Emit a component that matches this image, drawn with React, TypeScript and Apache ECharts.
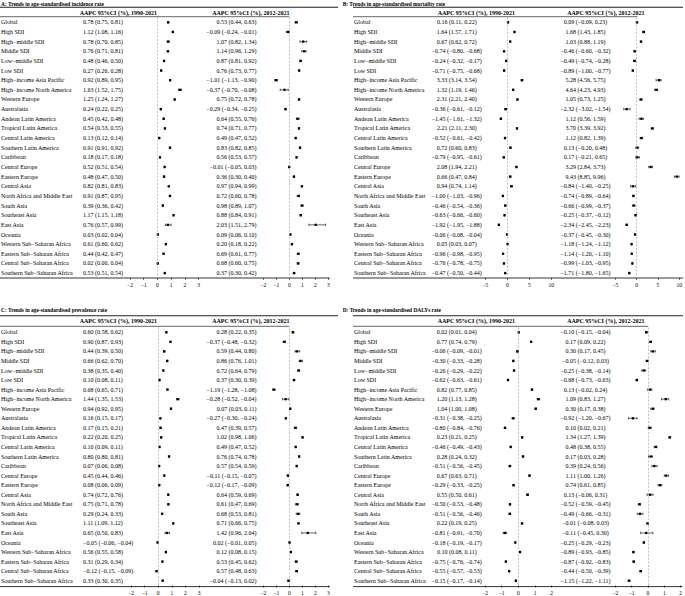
import React, { useEffect, useRef } from "react";
import * as echarts from "echarts";

const regions = [
  "Global", "High SDI", "High\u2212middle SDI", "Middle SDI", "Low\u2212middle SDI", "Low SDI",
  "High\u2212income Asia Pacific", "High\u2212income North America", "Western Europe", "Australasia",
  "Andean Latin America", "Tropical Latin America", "Central Latin America", "Southern Latin America",
  "Caribbean", "Central Europe", "Eastern Europe", "Central Asia", "North Africa and Middle East",
  "South Asia", "Southeast Asia", "East Asia", "Oceania", "Western Sub\u2212Saharan Africa",
  "Eastern Sub\u2212Saharan Africa", "Central Sub\u2212Saharan Africa", "Southern Sub\u2212Saharan Africa",
];

const incidence1990 = [
  [0.78, 0.75, 0.81], [1.12, 1.08, 1.16], [0.78, 0.70, 0.85], [0.76, 0.71, 0.81], [0.48, 0.46, 0.50],
  [0.27, 0.26, 0.28], [0.92, 0.89, 0.95], [1.63, 1.52, 1.75], [1.25, 1.24, 1.27], [0.24, 0.22, 0.25],
  [0.45, 0.42, 0.48], [0.54, 0.53, 0.55], [0.13, 0.12, 0.14], [0.91, 0.91, 0.92], [0.18, 0.17, 0.18],
  [0.52, 0.51, 0.54], [0.48, 0.47, 0.50], [0.82, 0.81, 0.83], [0.91, 0.87, 0.95], [0.39, 0.36, 0.42],
  [1.17, 1.15, 1.18], [0.76, 0.57, 0.99], [0.03, 0.02, 0.04], [0.61, 0.60, 0.62], [0.44, 0.42, 0.47],
  [0.02, 0.00, 0.04], [0.53, 0.51, 0.54],
];
const incidence2012 = [
  [0.53, 0.44, 0.63], [-0.09, -0.24, -0.01], [1.07, 0.82, 1.34], [1.14, 0.96, 1.29], [0.87, 0.81, 0.92],
  [0.76, 0.73, 0.77], [-1.01, -1.13, -0.90], [-0.37, -0.70, -0.08], [0.75, 0.72, 0.78], [-0.29, -0.34, -0.25],
  [0.64, 0.55, 0.76], [0.74, 0.71, 0.77], [0.49, 0.47, 0.52], [0.83, 0.82, 0.85], [0.56, 0.53, 0.57],
  [-0.01, -0.05, 0.03], [0.36, 0.30, 0.40], [0.97, 0.94, 0.99], [0.72, 0.60, 0.78], [0.98, 0.89, 1.07],
  [0.88, 0.84, 0.91], [2.03, 1.51, 2.79], [0.09, 0.06, 0.10], [0.20, 0.18, 0.22], [0.69, 0.61, 0.77],
  [0.68, 0.60, 0.75], [0.37, 0.30, 0.42],
];
const mortality1990 = [
  [0.16, 0.11, 0.22], [1.64, 1.57, 1.71], [0.67, 0.62, 0.72], [-0.74, -0.80, -0.68], [-0.24, -0.32, -0.17],
  [-0.71, -0.75, -0.68], [3.33, 3.14, 3.54], [1.32, 1.19, 1.46], [2.31, 2.21, 2.40], [-0.36, -0.61, -0.12],
  [-1.45, -1.61, -1.32], [2.21, 2.11, 2.30], [-0.52, -0.61, -0.42], [0.72, 0.60, 0.83], [-0.79, -0.95, -0.61],
  [2.08, 1.94, 2.21], [0.66, 0.47, 0.84], [0.94, 0.74, 1.14], [-1.00, -1.03, -0.96], [-0.46, -0.54, -0.36],
  [-0.63, -0.66, -0.60], [-1.92, -1.95, -1.88], [-0.06, -0.08, -0.04], [0.05, 0.03, 0.07], [-0.96, -0.98, -0.95],
  [-0.76, -0.78, -0.75], [-0.47, -0.50, -0.44],
];
const mortality2012 = [
  [0.09, -0.09, 0.23], [1.68, 1.43, 1.85], [1.03, 0.88, 1.19], [-0.46, -0.60, -0.32], [-0.49, -0.74, -0.28],
  [-0.89, -1.00, -0.77], [5.28, 4.56, 5.75], [4.64, 4.23, 4.93], [1.05, 0.73, 1.25], [-2.32, -3.02, -1.54],
  [1.12, 0.56, 1.59], [3.70, 3.39, 3.92], [1.12, 0.82, 1.39], [0.13, -0.20, 0.48], [0.17, -0.21, 0.65],
  [3.29, 2.84, 3.73], [9.43, 8.85, 9.96], [-0.84, -1.40, -0.25], [-0.74, -0.89, -0.64], [-0.66, -0.99, -0.37],
  [-0.25, -0.37, -0.12], [-2.34, -2.45, -2.23], [-0.37, -0.45, -0.30], [-1.18, -1.24, -1.12], [-1.14, -1.20, -1.10],
  [-0.99, -1.03, -0.95], [-1.71, -1.80, -1.65],
];
const prevalence1990 = [
  [0.60, 0.58, 0.62], [0.90, 0.87, 0.93], [0.44, 0.39, 0.50], [0.66, 0.62, 0.70], [0.38, 0.35, 0.40],
  [0.10, 0.08, 0.11], [0.68, 0.65, 0.71], [1.44, 1.35, 1.53], [0.94, 0.92, 0.95], [0.16, 0.15, 0.17],
  [0.17, 0.15, 0.21], [0.22, 0.20, 0.25], [0.10, 0.09, 0.11], [0.80, 0.80, 0.81], [0.07, 0.06, 0.08],
  [0.45, 0.44, 0.46], [0.08, 0.06, 0.09], [0.74, 0.72, 0.76], [0.75, 0.71, 0.78], [0.29, 0.24, 0.33],
  [1.11, 1.09, 1.12], [0.65, 0.50, 0.83], [-0.05, -0.06, -0.04], [0.56, 0.55, 0.58], [0.31, 0.29, 0.34],
  [-0.12, -0.15, -0.09], [0.33, 0.30, 0.35],
];
const prevalence2012 = [
  [0.28, 0.22, 0.35], [-0.37, -0.48, -0.32], [0.59, 0.44, 0.80], [0.86, 0.76, 1.01], [0.72, 0.64, 0.79],
  [0.37, 0.30, 0.39], [-1.19, -1.28, -1.08], [-0.28, -0.52, -0.04], [0.07, 0.03, 0.11], [-0.27, -0.30, -0.24],
  [0.47, 0.39, 0.57], [1.02, 0.98, 1.06], [0.49, 0.47, 0.52], [0.76, 0.74, 0.78], [0.57, 0.54, 0.59],
  [-0.11, -0.15, -0.07], [-0.12, -0.17, -0.09], [0.64, 0.59, 0.69], [0.61, 0.47, 0.69], [0.68, 0.53, 0.81],
  [0.71, 0.66, 0.75], [1.42, 0.96, 2.04], [0.02, -0.01, 0.05], [0.12, 0.08, 0.15], [0.53, 0.45, 0.62],
  [0.57, 0.48, 0.63], [-0.04, -0.13, 0.02],
];
const dalys1990 = [
  [0.02, 0.01, 0.04], [0.77, 0.74, 0.79], [-0.06, -0.09, -0.01], [-0.30, -0.33, -0.28], [-0.26, -0.29, -0.22],
  [-0.62, -0.63, -0.61], [0.82, 0.77, 0.85], [1.20, 1.13, 1.28], [1.04, 1.00, 1.08], [-0.31, -0.38, -0.25],
  [-0.80, -0.84, -0.76], [0.23, 0.21, 0.25], [-0.46, -0.49, -0.43], [0.28, 0.24, 0.32], [-0.51, -0.56, -0.45],
  [0.67, 0.63, 0.71], [-0.29, -0.33, -0.25], [0.55, 0.50, 0.61], [-0.50, -0.53, -0.48], [-0.51, -0.56, -0.46],
  [0.22, 0.19, 0.25], [-0.81, -0.91, -0.70], [-0.18, -0.19, -0.17], [0.10, 0.08, 0.11], [-0.75, -0.76, -0.74],
  [-0.55, -0.57, -0.53], [-0.15, -0.17, -0.14],
];
const dalys2012 = [
  [-0.10, -0.15, -0.04], [0.17, 0.09, 0.22], [0.30, 0.17, 0.45], [-0.05, -0.12, 0.03], [-0.25, -0.38, -0.14],
  [-0.68, -0.73, -0.63], [0.13, -0.02, 0.24], [1.09, 0.83, 1.27], [0.30, 0.17, 0.38], [-0.92, -1.20, -0.67],
  [0.10, 0.02, 0.21], [1.34, 1.27, 1.39], [0.48, 0.38, 0.55], [0.17, 0.03, 0.28], [0.39, 0.24, 0.56],
  [1.11, 1.00, 1.26], [0.74, 0.61, 0.85], [0.13, -0.06, 0.31], [-0.52, -0.59, -0.45], [-0.49, -0.66, -0.31],
  [-0.01, -0.08, 0.03], [-0.11, -0.45, 0.30], [-0.25, -0.29, -0.23], [-0.89, -0.93, -0.85], [-0.87, -0.92, -0.83],
  [-0.44, -0.50, -0.39], [-1.15, -1.22, -1.11],
];

const titles = [
  "A: Trends in age-standardised incidence rate",
  "B: Trends in age-standardised mortality rate",
  "C: Trends in age-standardised prevalence rate",
  "D: Trends in age-standardised DALYs rate",
];
const header1 = "AAPC 95%CI (%), 1990-2021";
const header2 = "AAPC 95%CI (%), 2012-2021";

const FONT = '"Liberation Serif", "Times New Roman", Times, serif';

const fmt = (n: number) => (n < 0 ? "\u2212" : "") + Math.abs(n).toFixed(2);
const ci = (t: number[]) => `${fmt(t[0])} (${fmt(t[1])}, ${fmt(t[2])})`;
const tickFmt = (v: number) => (v < 0 ? "\u2212" + -v : String(v));

export default function App() {
  const ref = useRef<HTMLDivElement>(null);
  useEffect(() => {
    document.body.style.margin = "0";
    const chart = echarts.init(ref.current!, null, { renderer: "svg" });

    const topRow = { titleY: 3.6, topLine: 7.2, hdr: 12.6, hdrLine: 16.7, gridTop: 17.5, gridH: 260.4, bottom: 278 };
    const botRow = { titleY: 310, topLine: 315.8, hdr: 321.3, hdrLine: 326.3, gridTop: 327.5, gridH: 259, bottom: 586.6 };
    const leftCol = {
      titleX: 1, labelX: 1, lineX0: 0, lineX1: 338,
      c1: { x: 83, align: "left" }, c2: { x: 256.5, align: "right" }, h1: 118.3, h2: 250.8,
    };
    const rightCol = {
      titleX: 342.7, labelX: 354, lineX0: 353, lineX1: 683,
      c1: { x: 456.8, align: "center" }, c2: { x: 585.5, align: "center" }, h1: 476.3, h2: 605.8,
    };
    const panels = [
      { ...leftCol, ...topRow, d1: incidence1990, d2: incidence2012, title: titles[0],
        g1: { l: 130, r: 198.7, min: -2, max: 3, step: 1 }, g2: { l: 263.3, r: 328.3, min: -2, max: 3, step: 1 } },
      { ...rightCol, ...topRow, d1: mortality1990, d2: mortality2012, title: titles[1],
        g1: { l: 485.3, r: 551.3, min: -5, max: 10, step: 5 }, g2: { l: 615.3, r: 681.7, min: -5, max: 10, step: 5 } },
      { ...leftCol, ...botRow, d1: prevalence1990, d2: prevalence2012, title: titles[2],
        g1: { l: 131, r: 199, min: -2, max: 3, step: 1 }, g2: { l: 263.3, r: 328.3, min: -2, max: 3, step: 1 } },
      { ...rightCol, ...botRow, d1: dalys1990, d2: dalys2012, title: titles[3],
        g1: { l: 485, r: 551.7, min: -2, max: 2, step: 1 }, g2: { l: 615.3, r: 681, min: -2, max: 2, step: 1 } },
    ];

    const grids: any[] = [];
    const xAxes: any[] = [];
    const yAxes: any[] = [];
    const series: any[] = [];
    const graphics: any[] = [];

    const txt = (text: string, x: number, y: number, size: number, bold: boolean, align = "left") => ({
      type: "text",
      silent: true,
      style: {
        text, x, y, fill: "#000", fontSize: size, fontFamily: FONT,
        fontWeight: bold ? "bold" : "normal", textAlign: align, textVerticalAlign: "middle",
      },
    });
    const hline = (x1: number, x2: number, y: number, w: number, color = "#000") => ({
      type: "line", silent: true,
      shape: { x1, y1: y, x2, y2: y },
      style: { stroke: color, lineWidth: w },
    });

    const forestItem = (params: any, api: any) => {
      const v = api.value(0), i = api.value(1), lo = api.value(2), hi = api.value(3);
      const c = api.coord([v, i]);
      const l = api.coord([lo, i]);
      const h = api.coord([hi, i]);
      const cap = 1.2, s = 2.3;
      const st = { stroke: "#000", lineWidth: 0.6 };
      return {
        type: "group",
        children: [
          { type: "line", shape: { x1: l[0], y1: c[1], x2: h[0], y2: c[1] }, style: st },
          { type: "line", shape: { x1: l[0], y1: c[1] - cap, x2: l[0], y2: c[1] + cap }, style: st },
          { type: "line", shape: { x1: h[0], y1: c[1] - cap, x2: h[0], y2: c[1] + cap }, style: st },
          { type: "rect", shape: { x: c[0] - s / 2, y: c[1] - s / 2, width: s, height: s }, style: { fill: "#000" } },
        ],
      };
    };

    panels.forEach((p) => {
      graphics.push(txt(p.title, p.titleX, p.titleY, 5.4, true));
      graphics.push(hline(p.lineX0, p.lineX1, p.topLine, 1.1, "#222"));
      graphics.push(txt(header1, p.h1, p.hdr, 6, true, "center"));
      graphics.push(txt(header2, p.h2, p.hdr, 6, true, "center"));
      const zero2 = p.g2.l + ((0 - p.g2.min) / (p.g2.max - p.g2.min)) * (p.g2.r - p.g2.l);
      graphics.push(hline(p.lineX0, zero2, p.hdrLine, 0.6));
      graphics.push(hline(p.lineX0, p.g2.r + 1.5, p.bottom, 0.8));

      [p.g1, p.g2].forEach((g, k) => {
        const idx = grids.length;
        grids.push({ left: g.l, width: g.r - g.l, top: p.gridTop, height: p.gridH, containLabel: false });
        xAxes.push({
          type: "value", gridIndex: idx, min: g.min, max: g.max, interval: g.step,
          axisLine: { show: false },
          axisTick: { show: true, length: 2, lineStyle: { color: "#000", width: 0.6 } },
          axisLabel: { fontSize: 5.5, fontFamily: FONT, color: "#000", margin: 4.5, formatter: tickFmt },
          splitLine: { show: false },
        });
        yAxes.push({
          type: "category", gridIndex: idx, data: regions, inverse: true, show: false,
        });
        const d = k === 0 ? p.d1 : p.d2;
        series.push({
          type: "custom",
          xAxisIndex: idx, yAxisIndex: idx,
          clip: false,
          silent: true,
          encode: { x: [0, 2, 3], y: 1 },
          data: d.map((t, i) => [t[0], i, t[1], t[2]]),
          renderItem: forestItem,
          markLine: {
            silent: true, symbol: ["none", "none"], label: { show: false },
            lineStyle: { type: [2, 1.6], color: "#999", width: 0.6 },
            data: [{ xAxis: 0 }],
          },
        });
        if (k === 0) {
          series.push({
            type: "custom",
            xAxisIndex: idx, yAxisIndex: idx,
            clip: false, silent: true,
            encode: { x: 0, y: 1 },
            data: regions.map((_, i) => [0, i]),
            renderItem: (params: any, api: any) => {
              const i = api.value(1);
              const y = api.coord([0, i])[1];
              const mk = (text: string, x: number, align: string) => ({
                type: "text",
                style: {
                  text, x, y, fill: "#000", fontSize: 6, fontFamily: FONT,
                  textAlign: align, textVerticalAlign: "middle",
                },
              });
              return {
                type: "group",
                children: [
                  mk(regions[i], p.labelX, "left"),
                  mk(ci(p.d1[i]), p.c1.x, p.c1.align),
                  mk(ci(p.d2[i]), p.c2.x, p.c2.align),
                ],
              };
            },
          });
        }
      });
    });

    chart.setOption({
      animation: false,
      backgroundColor: "#fff",
      grid: grids,
      xAxis: xAxes,
      yAxis: yAxes,
      series,
      graphic: { elements: graphics },
    });
    return () => chart.dispose();
  }, []);
  return <div ref={ref} style={{ width: 685, height: 596 }} />;
}
